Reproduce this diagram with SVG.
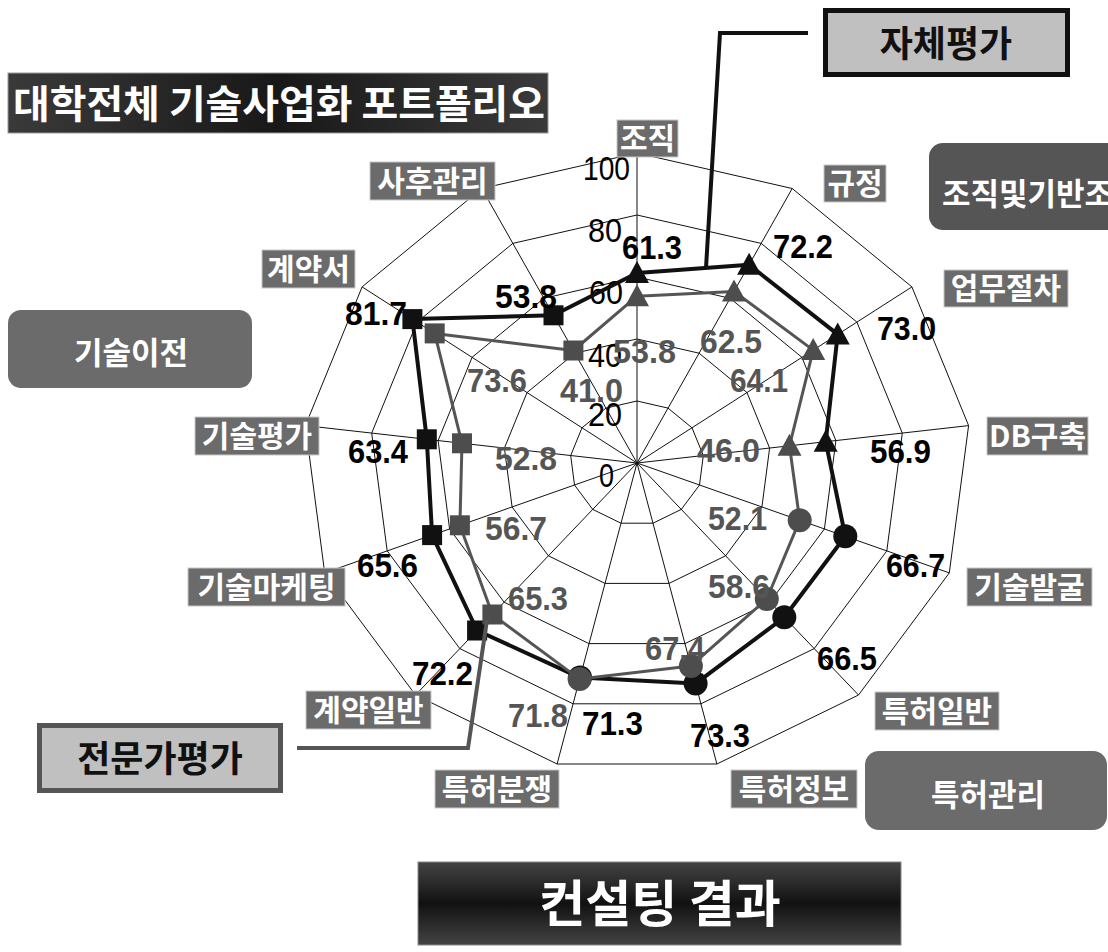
<svg xmlns="http://www.w3.org/2000/svg" width="1108" height="952" viewBox="0 0 1108 952">
<defs>
<linearGradient id="gTitle" x1="0" y1="0" x2="1" y2="0">
<stop offset="0" stop-color="#3a3a3a"/><stop offset="0.5" stop-color="#181818"/><stop offset="1" stop-color="#3a3a3a"/>
</linearGradient>
<linearGradient id="gRes" x1="0" y1="0" x2="0" y2="1">
<stop offset="0" stop-color="#444"/><stop offset="0.5" stop-color="#111"/><stop offset="1" stop-color="#444"/>
</linearGradient>
<path id="tri" d="M0,-12 L12,10 L-12,10 Z"/>
</defs>
<style>
.grid{fill:none;stroke:#111;stroke-width:1}
.axlab{font-family:"Noto Sans CJK KR","Liberation Sans",sans-serif;font-weight:700;font-size:30px;fill:#fff;text-anchor:middle}
.lbox{fill:#6b6b6b;stroke:#c8c8c8;stroke-width:1}
.sc{font-family:"Liberation Sans",sans-serif;font-size:33px;fill:#000}
.vs{font-family:"Liberation Sans",sans-serif;font-weight:700;font-size:34px;fill:#000}
.ve{font-family:"Liberation Sans",sans-serif;font-weight:700;font-size:34px;fill:#555}
.kr{font-family:"Noto Sans CJK KR",sans-serif;font-weight:700}
</style>
<rect width="1108" height="952" fill="#fff"/>

<g id="grid">
<polygon class="grid" points="637,153 792.2,188.5 911.9,286.9 968.6,425.6 949.3,572.9 858.5,695 716.9,764 557.1,764 415.5,695 324.7,572.9 305.4,425.6 362.1,286.9 481.8,188.5"/>
<polygon class="grid" points="637,215 761.2,243.4 856.9,322.1 902.3,433.1 886.8,550.9 814.2,648.6 700.9,703.8 573.1,703.8 459.8,648.6 387.2,550.9 371.7,433.1 417.1,322.1 512.8,243.4"/>
<polygon class="grid" points="637,277 730.1,298.3 801.9,357.3 835.9,440.6 824.4,529 769.9,602.2 685,643.6 589,643.6 504.1,602.2 449.6,529 438.1,440.6 472.1,357.3 543.9,298.3"/>
<polygon class="grid" points="637,339 699.1,353.2 747,392.6 769.6,448.1 761.9,507 725.6,555.8 669,583.4 605,583.4 548.4,555.8 512.1,507 504.4,448.1 527,392.6 574.9,353.2"/>
<polygon class="grid" points="637,401 668,408.1 692,427.8 703.3,455.5 699.5,485 681.3,509.4 653,523.2 621,523.2 592.7,509.4 574.5,485 570.7,455.5 582,427.8 606,408.1"/>
<path class="grid" d="M637,463 L637,153 M637,463 L792.2,188.5 M637,463 L911.9,286.9 M637,463 L968.6,425.6 M637,463 L949.3,572.9 M637,463 L858.5,695 M637,463 L716.9,764 M637,463 L557.1,764 M637,463 L415.5,695 M637,463 L324.7,572.9 M637,463 L305.4,425.6 M637,463 L362.1,286.9 M637,463 L481.8,188.5"/>
<text class="sc" x="583" y="180" textLength="47" lengthAdjust="spacingAndGlyphs">100</text>
<text class="sc" x="588" y="242" textLength="34" lengthAdjust="spacingAndGlyphs">80</text>
<text class="sc" x="589" y="304" textLength="34" lengthAdjust="spacingAndGlyphs">60</text>
<text class="sc" x="588" y="367" textLength="34" lengthAdjust="spacingAndGlyphs">40</text>
<text class="sc" x="588" y="426" textLength="34" lengthAdjust="spacingAndGlyphs">20</text>
<text class="sc" x="599" y="487" textLength="15" lengthAdjust="spacingAndGlyphs">0</text>
</g>

<g id="series-self">
<polygon points="637,273 749.1,264.8 837.7,334.4 825.7,441.7 845.3,536.3 784.3,617.3 695.6,683.6 580,677.6 477.1,630.5 432.1,535.1 426.8,439.3 412.4,319.1 553.5,315.3" fill="none" stroke="#111" stroke-width="4" stroke-linejoin="round"/>
<g fill="#111">
<use href="#tri" x="637" y="273"/><use href="#tri" x="749.1" y="264.8"/><use href="#tri" x="837.7" y="334.4"/><use href="#tri" x="825.7" y="441.7"/>
<circle cx="845.3" cy="536.3" r="12"/><circle cx="784.3" cy="617.3" r="12"/><circle cx="695.6" cy="683.6" r="12"/><circle cx="580" cy="677.6" r="12"/>
<rect x="467.1" y="620.5" width="20" height="20"/><rect x="422.1" y="525.1" width="20" height="20"/><rect x="416.8" y="429.3" width="20" height="20"/><rect x="402.4" y="309.1" width="20" height="20"/><rect x="543.5" y="305.3" width="20" height="20"/>
</g>
</g>

<g id="series-expert">
<polygon points="637,296.2 734,291.4 813.2,350.1 789.5,445.8 799.7,520.3 766.8,599 690.9,665.9 579.6,679.1 492.4,614.5 459.9,525.3 462,443.3 434.7,333.4 573.4,350.5" fill="none" stroke="#555" stroke-width="3" stroke-linejoin="round"/>
<g fill="#4d4d4d">
<use href="#tri" x="637" y="296.2"/><use href="#tri" x="734" y="291.4"/><use href="#tri" x="813.2" y="350.1"/><use href="#tri" x="789.5" y="445.8"/>
<circle cx="799.7" cy="520.3" r="12"/><circle cx="766.8" cy="599" r="12"/><circle cx="690.9" cy="665.9" r="12"/><circle cx="579.6" cy="679.1" r="12"/>
<rect x="482.4" y="604.5" width="20" height="20"/><rect x="449.9" y="515.3" width="20" height="20"/><rect x="452" y="433.3" width="20" height="20"/><rect x="424.7" y="323.4" width="20" height="20"/><rect x="563.4" y="340.5" width="20" height="20"/>
</g>
</g>

<g id="values-self">
<text class="vs" x="622" y="259" textLength="60" lengthAdjust="spacingAndGlyphs">61.3</text>
<text class="vs" x="773" y="258" textLength="60" lengthAdjust="spacingAndGlyphs">72.2</text>
<text class="vs" x="877" y="340" textLength="59" lengthAdjust="spacingAndGlyphs">73.0</text>
<text class="vs" x="870" y="463" textLength="61" lengthAdjust="spacingAndGlyphs">56.9</text>
<text class="vs" x="886" y="577" textLength="59" lengthAdjust="spacingAndGlyphs">66.7</text>
<text class="vs" x="817" y="670" textLength="60" lengthAdjust="spacingAndGlyphs">66.5</text>
<text class="vs" x="690" y="747" textLength="60" lengthAdjust="spacingAndGlyphs">73.3</text>
<text class="vs" x="582" y="735" textLength="61" lengthAdjust="spacingAndGlyphs">71.3</text>
<text class="vs" x="412" y="685" textLength="61" lengthAdjust="spacingAndGlyphs">72.2</text>
<text class="vs" x="357" y="577" textLength="61" lengthAdjust="spacingAndGlyphs">65.6</text>
<text class="vs" x="348" y="463" textLength="60" lengthAdjust="spacingAndGlyphs">63.4</text>
<text class="vs" x="345" y="325" textLength="62" lengthAdjust="spacingAndGlyphs">81.7</text>
<text class="vs" x="495" y="308" textLength="62" lengthAdjust="spacingAndGlyphs">53.8</text>
</g>
<g id="values-expert">
<text class="ve" x="613" y="363" textLength="63" lengthAdjust="spacingAndGlyphs">53.8</text>
<text class="ve" x="700" y="353" textLength="62" lengthAdjust="spacingAndGlyphs">62.5</text>
<text class="ve" x="730" y="392" textLength="58" lengthAdjust="spacingAndGlyphs">64.1</text>
<text class="ve" x="697" y="462" textLength="63" lengthAdjust="spacingAndGlyphs">46.0</text>
<text class="ve" x="708" y="530" textLength="59" lengthAdjust="spacingAndGlyphs">52.1</text>
<text class="ve" x="708" y="598" textLength="62" lengthAdjust="spacingAndGlyphs">58.6</text>
<text class="ve" x="645" y="660" textLength="60" lengthAdjust="spacingAndGlyphs">67.4</text>
<text class="ve" x="508" y="727" textLength="60" lengthAdjust="spacingAndGlyphs">71.8</text>
<text class="ve" x="508" y="610" textLength="60" lengthAdjust="spacingAndGlyphs">65.3</text>
<text class="ve" x="485" y="540" textLength="62" lengthAdjust="spacingAndGlyphs">56.7</text>
<text class="ve" x="495" y="470" textLength="62" lengthAdjust="spacingAndGlyphs">52.8</text>
<text class="ve" x="467" y="392" textLength="60" lengthAdjust="spacingAndGlyphs">73.6</text>
<text class="ve" x="560" y="402" textLength="63" lengthAdjust="spacingAndGlyphs">41.0</text>
</g>

<g id="axis-labels">
<g id="lab-jojik"><rect class="lbox" x="617" y="120" width="61" height="37"/><text class="axlab" x="647.5" y="149" font-size="29">조직</text></g>
<g id="lab-gyujeong"><rect class="lbox" x="824" y="165" width="62" height="37"/><text class="axlab" x="855" y="194" font-size="29">규정</text></g>
<g id="lab-eopmu"><rect class="lbox" x="944" y="270" width="124" height="37"/><text class="axlab" x="1006" y="299">업무절차</text></g>
<g id="lab-db"><rect class="lbox" x="987" y="417" width="101" height="38"/><text class="axlab" x="1037.5" y="447">DB구축</text></g>
<g id="lab-balgul"><rect class="lbox" x="967" y="568" width="125" height="38"/><text class="axlab" x="1029.5" y="598">기술발굴</text></g>
<g id="lab-teukheo-il"><rect class="lbox" x="875" y="692" width="124" height="38"/><text class="axlab" x="937" y="722">특허일반</text></g>
<g id="lab-teukheo-jb"><rect class="lbox" x="731" y="770" width="126" height="38"/><text class="axlab" x="794" y="800">특허정보</text></g>
<g id="lab-teukheo-bj"><rect class="lbox" x="435" y="770" width="124" height="38"/><text class="axlab" x="497" y="800">특허분쟁</text></g>
<g id="lab-gyeyak-il"><rect class="lbox" x="306" y="691" width="125" height="38"/><text class="axlab" x="368.5" y="721">계약일반</text></g>
<g id="lab-marketing"><rect class="lbox" x="188" y="568" width="157" height="38"/><text class="axlab" x="266.5" y="598">기술마케팅</text></g>
<g id="lab-pyeongga"><rect class="lbox" x="195" y="417" width="124" height="38"/><text class="axlab" x="257" y="447">기술평가</text></g>
<g id="lab-gyeyakseo"><rect class="lbox" x="262" y="250" width="93" height="38"/><text class="axlab" x="308.5" y="280">계약서</text></g>
<g id="lab-sahu"><rect class="lbox" x="370" y="162" width="125" height="38"/><text class="axlab" x="432.5" y="192">사후관리</text></g>
</g>

<g id="connectors">
<polyline points="808,33 720,33 706,268" fill="none" stroke="#111" stroke-width="4"/>
<polyline points="297,748 468,748 487,620" fill="none" stroke="#555" stroke-width="4"/>
</g>

<g id="title">
<rect x="8" y="73" width="540" height="60" fill="url(#gTitle)" stroke="#999" stroke-width="1"/>
<text class="kr" x="13" y="118" font-size="39" fill="#fff" textLength="532" lengthAdjust="spacingAndGlyphs">대학전체 기술사업화 포트폴리오</text>
</g>

<g id="legend-self">
<rect x="825.5" y="10.5" width="242" height="64" fill="#c0c0c0" stroke="#111" stroke-width="5"/>
<text class="kr" x="946" y="57" font-size="36" fill="#111" text-anchor="middle">자체평가</text>
</g>
<g id="legend-expert">
<rect x="39.5" y="725.5" width="241" height="65" fill="#c0c0c0" stroke="#555" stroke-width="5"/>
<text class="kr" x="160" y="772" font-size="36" fill="#111" text-anchor="middle">전문가평가</text>
</g>

<g id="group-transfer">
<rect x="8" y="310" width="244" height="78" rx="13" fill="#6b6b6b"/>
<text class="kr" x="131" y="364" font-size="31" fill="#fff" text-anchor="middle">기술이전</text>
</g>
<g id="group-org">
<rect x="929" y="143" width="200" height="87" rx="14" fill="#555"/>
<text class="kr" x="942" y="205" font-size="31" fill="#fff">조직및기반조</text>
</g>
<g id="group-patent">
<rect x="865" y="751" width="242" height="79" rx="14" fill="#6b6b6b"/>
<text class="kr" x="988" y="806" font-size="31" fill="#fff" text-anchor="middle">특허관리</text>
</g>

<g id="result">
<rect x="418" y="862" width="483" height="83" fill="url(#gRes)" stroke="#888" stroke-width="1"/>
<text class="kr" x="660" y="922" font-size="50" fill="#fff" text-anchor="middle">컨설팅 결과</text>
</g>
</svg>
